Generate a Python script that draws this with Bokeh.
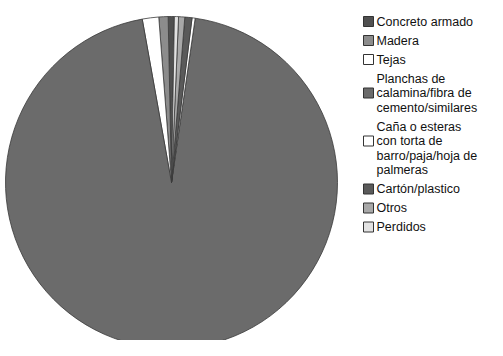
import numpy as np
from bokeh.plotting import figure
from bokeh.models import Range1d, ColumnDataSource
from bokeh.core.properties import value
from bokeh.embed import file_html
from bokeh.resources import INLINE

# Data (percentages)
categories = ["Concreto armado", "Madera", "Tejas",
              "Planchas de\ncalamina/fibra de\ncemento/similares",
              "Caña o esteras\ncon torta de\nbarro/paja/hoja de\npalmeras",
              "Cartón/plastico", "Otros", "Perdidos"]
shares = [0.6, 0.9, 1.6, 94.9, 0.3, 0.7, 0.6, 0.4]
colors = ["#505050", "#8c8c8c", "#ffffff", "#6b6b6b", "#ffffff", "#5a5a5a", "#a8a8a8", "#e2e2e2"]

W, H = 487, 340
p = figure(width=W, height=H, output_backend="svg", toolbar_location=None,
           x_range=Range1d(0, W), y_range=Range1d(0, H), min_border=0)
p.axis.visible = False
p.grid.visible = False
p.outline_line_color = None

vals = np.array(shares, dtype=float)
start0 = np.deg2rad(89.0)
cum = np.concatenate([[0], np.cumsum(vals)]) / vals.sum() * 2 * np.pi
src = ColumnDataSource(dict(start=start0 + cum[:-1], end=start0 + cum[1:], color=colors))
p.wedge(x=171, y=H - 182, radius=166, radius_units="screen", start_angle="start", end_angle="end",
        fill_color="color", line_color="#3a3a3a", line_width=0.8, source=src)

# manual legend
y = H - 21
entry_gap = 19
line_gap = 14.5
sw_x, tx = 368, 376
for cat, col in zip(categories, colors):
    lines = cat.split("\n")
    n = len(lines)
    ys = [y - i * line_gap for i in range(n)]
    sw_idx = 1 if n >= 3 else 0
    p.rect(x=sw_x, y=ys[sw_idx], width=10, height=10, fill_color=col, line_color="#333333", line_width=1)
    p.text(x=[tx] * n, y=ys, text=lines, text_font=value("Liberation Sans"), text_font_size="12.5px",
           text_baseline="middle", text_align="left", text_color="#111111")
    y = ys[-1] - entry_gap

open("out.html", "w").write(file_html(p, INLINE))
